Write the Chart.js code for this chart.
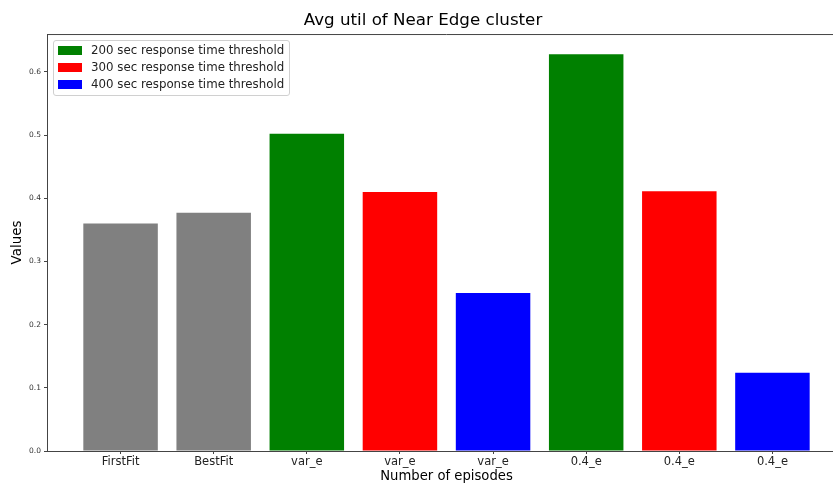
<!DOCTYPE html>
<html>
<head>
<meta charset="utf-8">
<script src="https://cdn.jsdelivr.net/npm/chart.js@4/dist/chart.umd.min.js"></script>
<style>
  html, body { margin:0; padding:0; background:#fff; overflow:hidden; }
  #wrap { position:relative; width:850px; height:487px; }
  #legend {
    position:absolute; left:53px; top:40px; width:237px; height:56px;
    border:1px solid #d0d0d0; border-radius:3px; background:rgba(255,255,255,.8);
    font-family:"DejaVu Sans", sans-serif; font-size:11.8px; color:#222;
    box-sizing:border-box; padding-top:1px;
  }
  .item { position:relative; height:17px; line-height:17px; padding-left:37px; white-space:nowrap; }
  .sw { position:absolute; left:4px; top:4px; width:24px; height:9px; }
</style>
</head>
<body>
<div id="wrap">
  <canvas id="c" width="850" height="487"></canvas>
  <div id="legend"></div>
</div>
<script>
/* ---------- 資料 ---------- */
const categories = ['FirstFit','BestFit','var_e','var_e','var_e','0.4_e','0.4_e','0.4_e'];
const values     = [0.360, 0.377, 0.502, 0.410, 0.250, 0.628, 0.411, 0.124];
const barColors  = ['#808080','#808080','#008000','#ff0000','#0000ff','#008000','#ff0000','#0000ff'];
const yTicks     = [0.0, 0.1, 0.2, 0.3, 0.4, 0.5, 0.6];
const legendLabels = ['200 sec response time threshold','300 sec response time threshold','400 sec response time threshold'];
const legendColors = ['#008000','#ff0000','#0000ff'];

const FONT = '"DejaVu Sans", sans-serif';
const AXIS = '#444';

/* 圖例（HTML） */
const lg = document.getElementById('legend');
legendLabels.forEach((t,i)=>{
  const row = document.createElement('div'); row.className='item';
  const sw = document.createElement('span'); sw.className='sw'; sw.style.background=legendColors[i];
  row.append(sw, document.createTextNode(t));
  lg.append(row);
});

/* 上框線 */
const topSpine = {
  id:'topSpine',
  afterDraw(chart){
    const {ctx, chartArea:a} = chart;
    ctx.save(); ctx.strokeStyle=AXIS; ctx.lineWidth=1;
    ctx.beginPath(); ctx.moveTo(a.left, a.top+0.5); ctx.lineTo(a.right, a.top+0.5); ctx.stroke();
    ctx.restore();
  }
};

new Chart(document.getElementById('c').getContext('2d'), {
  type:'bar',
  data:{
    datasets:[{
      data: values.map((v,i)=>({x:i, y:v})),
      backgroundColor: barColors,
      borderWidth:0,
      categoryPercentage:0.8,
      barPercentage:1
    }]
  },
  options:{
    responsive:false,
    animation:false,
    layout:{ padding:{ left:0, right:4, top:0, bottom:0 } },
    plugins:{
      legend:{ display:false },
      tooltip:{ enabled:false },
      title:{
        display:true, text:'Avg util of Near Edge cluster', color:'#000',
        font:{ family:FONT, size:16.7, weight:'normal' },
        padding:{ top:11, bottom:3 }
      }
    },
    scales:{
      x:{
        type:'linear', min:-0.79, max:7.79, offset:false,
        afterFit:(s)=>{ s.height = 36; },
        afterBuildTicks:(s)=>{ s.ticks = categories.map((_,i)=>({value:i})); },
        ticks:{ callback:(v)=>categories[v], color:'#222', padding:1, maxRotation:0, autoSkip:false,
                font:{ family:FONT, size:11.5 } },
        grid:{ offset:false, drawOnChartArea:false, drawTicks:true, tickLength:3, color:AXIS },
        border:{ color:AXIS, width:1 },
        title:{ display:true, text:'Number of episodes', color:'#000',
                font:{ family:FONT, size:13.2 }, padding:{ top:0, bottom:3 } }
      },
      y:{
        min:0, max:0.66,
        afterFit:(s)=>{ s.width = 47; },
        afterBuildTicks:(s)=>{ s.ticks = yTicks.map(v=>({value:v})); },
        ticks:{ callback:(v)=>Number(v).toFixed(1), color:'#333', padding:3,
                font:{ family:FONT, size:7.5 } },
        grid:{ drawOnChartArea:false, drawTicks:true, tickLength:3, color:AXIS },
        border:{ color:AXIS, width:1 },
        title:{ display:true, text:'Values', color:'#000',
                font:{ family:FONT, size:13.4 }, padding:{ top:9, bottom:0 } }
      }
    }
  },
  plugins:[topSpine]
});
</script>
</body>
</html>
